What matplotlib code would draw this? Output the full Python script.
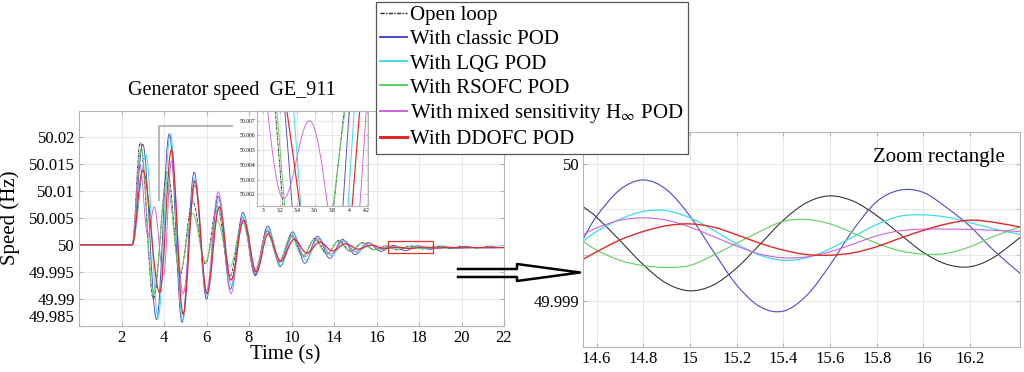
import matplotlib
matplotlib.use("Agg")
import numpy as np
import matplotlib.pyplot as plt
from matplotlib.path import Path
from matplotlib.patches import PathPatch, Rectangle
from matplotlib.lines import Line2D

plt.rcParams['font.family'] = ['Liberation Serif', 'DejaVu Serif']
plt.rcParams['mathtext.fontset'] = 'stix'

# ---- main plot: extrema (time s, speed Hz) ----
open_t = [0, 2.5, 2.88, 3.5, 4.16, 4.75, 5.35, 5.95, 6.5, 7.1, 7.7, 8.28, 8.85, 9.42,
          10.0, 10.55, 11.1, 11.67, 12.23, 12.8, 13.35, 13.9, 14.45, 15.0, 15.6, 16.2,
          16.8, 17.4, 18.0, 18.6, 19.2, 19.8, 20.0]
open_v = [50, 50, 50.0189, 49.9900, 50.0135, 49.9945, 50.0080, 49.9965, 50.0072, 49.9942,
          50.0050, 49.9945, 50.0028, 49.9968, 50.0018, 49.9980, 50.0012, 49.9984, 50.0008,
          49.9988, 50.0004, 49.9991, 49.99978, 49.99907, 49.99977, 49.99925, 49.99972,
          49.99935, 49.99968, 49.99942, 49.99962, 49.99948, 49.9995]

classic_t = [0, 2.5, 3.0, 3.65, 4.25, 4.85, 5.42, 6.0, 6.55, 7.12, 7.72, 8.3, 8.88, 9.47,
             10.05, 10.63, 11.22, 11.8, 12.4, 13.0, 13.6, 14.2, 14.8, 15.37, 15.93, 16.5,
             17.07, 17.64, 18.2, 18.78, 19.35, 20.0]
classic_v = [50, 50, 50.0186, 49.9862, 50.0205, 49.9857, 50.0134, 49.9900, 50.0090, 49.9918,
             50.0060, 49.9943, 50.0035, 49.9960, 50.0024, 49.9966, 50.0016, 49.9975, 50.0010,
             49.9982, 50.0004, 49.9988, 49.99988, 49.99892, 49.99981, 49.99918, 49.99975,
             49.9993, 49.9997, 49.99942, 49.99965, 49.9995]

lqg_t = [0, 2.5, 3.15, 3.72, 4.3, 4.88, 5.45, 6.02, 6.6, 7.17, 7.75, 8.33, 8.9, 9.5, 10.09,
         10.68, 11.28, 11.88, 12.47, 13.07, 13.66, 14.26, 14.86, 15.41, 15.97, 16.55, 17.12,
         17.7, 18.28, 18.86, 19.45, 20.0]
lqg_v = [50, 50, 50.0166, 49.9865, 50.0205, 49.9860, 50.0125, 49.9905, 50.0085, 49.9925,
         50.0055, 49.9948, 50.0030, 49.9962, 50.0020, 49.9972, 50.0013, 49.9980, 50.0008,
         49.9986, 50.0003, 49.9991, 49.99966, 49.99930, 49.99963, 49.99938, 49.9996,
         49.99942, 49.99958, 49.99945, 49.99955, 49.9995]

rsofc_t = [0, 2.5, 2.92, 3.5, 4.13, 4.75, 5.35, 5.95, 6.5, 7.1, 7.7, 8.28, 8.85, 9.41, 9.97,
           10.53, 11.09, 11.65, 12.2, 12.76, 13.32, 13.87, 14.42, 14.95, 15.44, 16.03, 16.6,
           17.15, 17.7, 18.3, 18.9, 19.5, 20.0]
rsofc_v = [50, 50, 50.0178, 49.9910, 50.0115, 49.9950, 50.0058, 49.9968, 50.0045, 49.9960,
           50.0040, 49.9955, 50.0022, 49.9970, 50.0015, 49.9978, 50.0010, 49.9983, 50.0006,
           49.9988, 50.0003, 49.9991, 49.99958, 49.99924, 49.99959, 49.99934, 49.99958,
           49.9994, 49.99955, 49.99943, 49.99953, 49.99946, 49.9995]

hinf_t = [0, 2.5, 2.85, 3.24, 3.54, 3.98, 4.35, 4.9, 5.45, 6.0, 6.55, 7.15, 7.7, 8.28, 8.85,
          9.45, 10.04, 10.63, 11.23, 11.83, 12.42, 13.0, 13.61, 14.2, 14.8, 15.42, 16.1,
          16.75, 17.35, 17.95, 18.55, 19.15, 19.75, 20.0]
hinf_v = [50, 50, 50.0150, 50.0017, 50.0070, 49.9945, 50.0155, 49.9910, 50.0110, 49.9915,
          50.0098, 49.9910, 50.0050, 49.9950, 50.0025, 49.9968, 50.0016, 49.9978, 50.0011,
          49.9983, 50.0007, 49.9988, 50.0003, 49.9992, 49.99960, 49.99931, 49.99952,
          49.99938, 49.99955, 49.99942, 49.99953, 49.99945, 49.9995, 49.99948]

ddofc_t = [0, 2.5, 3.0, 3.8, 4.35, 4.9, 5.45, 6.02, 6.6, 7.15, 7.75, 8.35, 8.9, 9.5, 10.12,
           10.72, 11.33, 11.94, 12.55, 13.15, 13.76, 14.37, 14.98, 15.58, 16.2, 16.8, 17.4,
           18.0, 18.6, 19.2, 20.0]
ddofc_v = [50, 50, 50.0138, 49.9912, 50.0176, 49.9872, 50.0118, 49.9910, 50.0070, 49.9935,
           50.0045, 49.9950, 50.0020, 49.9970, 50.0010, 49.9985, 50.0005, 49.9989, 50.0002,
           49.9992, 49.99995, 49.99935, 49.99956, 49.99933, 49.99959, 49.9994, 49.99955,
           49.99944, 49.99952, 49.99946, 49.9995]

# ---- zoom rectangle: samples, deviation from 50 Hz in micro-Hz ----
zoom_t = [14.54, 14.6, 14.7, 14.8, 14.9, 15.0, 15.1, 15.2, 15.3, 15.4, 15.5, 15.6, 15.7,
          15.8, 15.9, 16.0, 16.1, 16.2, 16.3, 16.42]
zoom_open = [-311, -390, -560, -736, -872, -926, -884, -760, -588, -412, -284, -235, -274,
             -378, -514, -647, -733, -751, -684, -531]
zoom_classic = [-556, -383, -190, -119, -190, -383, -639, -884, -1042, -1074, -960, -738,
                -481, -277, -193, -210, -321, -457, -630, -807]
zoom_lqg = [-568, -494, -405, -348, -343, -395, -484, -585, -667, -704, -686, -620, -531,
            -444, -383, -373, -390, -430, -474, -518]
zoom_rsofc = [-563, -630, -704, -743, -756, -741, -667, -580, -494, -420, -407, -439, -506,
              -580, -635, -659, -654, -605, -531, -457]
zoom_hinf = [-518, -469, -412, -395, -412, -462, -531, -600, -659, -686, -679, -642, -585,
             -526, -489, -477, -477, -479, -486, -494]
zoom_ddofc = [-699, -642, -556, -494, -452, -439, -462, -518, -580, -630, -662, -667, -649,
              -605, -543, -486, -439, -412, -427, -464]

labels = ['Open loop', 'With classic POD', 'With LQG POD', 'With RSOFC POD',
          r'With mixed sensitivity H$_{\infty}$ POD', 'With DDOFC POD']
colors = ['#2a2a2a', '#4b4bc8', '#3fdde6', '#5ccf5c', '#d060d8', '#e02828']
main_widths = [0.65, 0.65, 0.7, 0.65, 0.65, 0.85]
zoom_widths = [0.75, 0.8, 0.9, 0.8, 0.8, 1.0]
dash = (0, (3, 1, 1, 1))

main_series = [(open_t, open_v), (classic_t, classic_v), (lqg_t, lqg_v),
               (rsofc_t, rsofc_v), (hinf_t, hinf_v), (ddofc_t, ddofc_v)]
zoom_series = [zoom_open, zoom_classic, zoom_lqg, zoom_rsofc, zoom_hinf, zoom_ddofc]

W, H = 1024, 372
K = 0.3642  # bezier handle length, horizontal tangents at the extrema


def extrema_path(ts, vs):
    verts = [(ts[0], vs[0])]
    codes = [Path.MOVETO]
    for i in range(1, len(ts)):
        dt = ts[i] - ts[i - 1]
        verts += [(ts[i - 1] + K * dt, vs[i - 1]), (ts[i] - K * dt, vs[i]), (ts[i], vs[i])]
        codes += [Path.CURVE4] * 3
    return Path(verts, codes)


def sample_path(ts, vs):
    # catmull-rom style bezier through the read samples
    pts = list(zip(ts, vs))
    verts = [pts[0]]
    codes = [Path.MOVETO]
    for i in range(len(pts) - 1):
        p0 = pts[i - 1] if i > 0 else pts[i]
        p1, p2 = pts[i], pts[i + 1]
        p3 = pts[i + 2] if i + 2 < len(pts) else p2
        c1 = (p1[0] + (p2[0] - p0[0]) / 6, p1[1] + (p2[1] - p0[1]) / 6)
        c2 = (p2[0] - (p3[0] - p1[0]) / 6, p2[1] - (p3[1] - p1[1]) / 6)
        verts += [c1, c2, p2]
        codes += [Path.CURVE4] * 3
    return Path(verts, codes)


def box(left, top, right, bottom):
    return [left / W, 1 - bottom / H, (right - left) / W, (bottom - top) / H]


def fig_pts(pts):
    return [p[0] / W for p in pts], [1 - p[1] / H for p in pts]


def style_axes(ax, size):
    for s in ax.spines.values():
        s.set_color('#b4b4b4')
        s.set_linewidth(0.8)
    ax.tick_params(direction='in', top=True, right=True, length=3, color='#b4b4b4',
                   labelsize=size, pad=3)
    ax.grid(True, color='#e8e8e8', linewidth=0.7)
    ax.set_axisbelow(True)


def draw_series(ax):
    for i, ((t, v), c, lw) in enumerate(zip(main_series, colors, main_widths)):
        ls = dash if i == 0 else '-'
        ax.add_patch(PathPatch(extrema_path(t, v), facecolor='none', edgecolor=c,
                               linewidth=lw, linestyle=ls, zorder=2 + i * 0.1))


fig = plt.figure(figsize=(W / 100, H / 100), dpi=100)

# main plot
ax = fig.add_axes(box(79, 110.7, 504, 326))
style_axes(ax, 12)
draw_series(ax)
ax.set_xlim(0, 20)
ax.set_ylim(49.985, 50.0248)
ax.set_xticks([2, 4, 6, 8, 10, 12, 14, 16, 18, 20])
ax.set_xticklabels(['2', '4', '6', '8', '10', '14', '16', '18', '20', '22'])
ax.set_yticks([49.985, 49.99, 49.995, 50, 50.005, 50.01, 50.015, 50.02])
ax.set_yticklabels(['49.985', '49.99', '49.995', '50', '50.005', '50.01', '50.015', '50.02'])
ax.get_yticklabels()[0].set_va('bottom')
ax.add_patch(Rectangle((14.54, 49.99858), 2.13, 0.00221, facecolor='none',
                       edgecolor='#e03030', linewidth=0.9, zorder=4))
gx, gy = fig_pts([(231.7, 125.7), (159, 125.7), (159, 200)])
ax.add_line(Line2D(gx, gy, transform=fig.transFigure, color='#b8b8b8', linewidth=1.5,
                   zorder=1.5))

fig.text(232 / W, 1 - 91 / H, 'Generator speed  GE_911', fontsize=14.5,
         ha='center', va='center')
fig.text(10 / W, 1 - 218 / H, 'Speed (Hz)', fontsize=15, rotation=90,
         ha='center', va='center')
fig.text(285 / W, 1 - 355 / H, 'Time (s)', fontsize=15, ha='center', va='center')

# inset
axi = fig.add_axes(box(257, 110.7, 368, 206))
axi.set_facecolor('white')
style_axes(axi, 4)
axi.tick_params(length=1.5, pad=1.5)
draw_series(axi)
axi.set_xlim(2.935, 4.215)
axi.set_ylim(50.0012, 50.00768)
axi.set_xticks([3, 3.2, 3.4, 3.6, 3.8, 4, 4.2])
axi.set_xticklabels(['3', '3.2', '3.4', '3.6', '3.8', '4', '4.2'])
axi.set_yticks([50.002, 50.003, 50.004, 50.005, 50.006, 50.007])
axi.set_yticklabels(['50.002', '50.003', '50.004', '50.005', '50.006', '50.007'])

# zoom rectangle panel
axz = fig.add_axes(box(583.3, 132, 1020, 346.7))
style_axes(axz, 12)
for vals, c, lw in zip(zoom_series, colors, zoom_widths):
    hz = list(50 + np.array(vals) * 1e-6)
    axz.add_patch(PathPatch(sample_path(zoom_t, hz), facecolor='none', edgecolor=c,
                            linewidth=lw, zorder=2))
axz.set_xlim(14.543, 16.414)
axz.set_ylim(49.998667, 50.00023)
axz.set_xticks([14.6, 14.8, 15, 15.2, 15.4, 15.6, 15.8, 16, 16.2])
axz.set_xticklabels(['14.6', '14.8', '15', '15.2', '15.4', '15.6', '15.8', '16', '16.2'])
axz.set_yticks([49.999, 50])
axz.set_yticklabels(['49.999', '50'])
axz.set_yticks([49.999333, 49.999667], minor=True)
axz.tick_params(which='minor', direction='in', left=True, right=True, length=3,
                color='#b4b4b4')
axz.grid(True, which='minor', axis='y', color='#e8e8e8', linewidth=0.7)
axz.text(0.966, 0.88, 'Zoom rectangle', transform=axz.transAxes, fontsize=15,
         ha='right', va='center')

# hollow arrow between the panels
axx, axy = fig_pts([(458, 269), (517, 269), (517, 264), (580, 272.5), (517, 281),
                    (517, 277), (458, 277)])
fig.add_artist(Line2D(axx, axy, transform=fig.transFigure, color='black', linewidth=1.8))

# legend
handles = [Line2D([], [], color=c, linewidth=1.4 if i else 1.0,
                  linestyle=dash if i == 0 else '-')
           for i, c in enumerate(colors)]
handles[5].set_linewidth(2.2)
leg = fig.legend(handles, labels, loc='upper left', bbox_to_anchor=(376 / W, 1 - 1.5 / H),
                 fontsize=15, frameon=True, fancybox=False, edgecolor='#555555',
                 framealpha=1, handlelength=1.3, handletextpad=0.15, labelspacing=0.22,
                 borderpad=0.2, borderaxespad=0)
leg.get_frame().set_linewidth(0.9)

fig.savefig('out.png', dpi=100)
